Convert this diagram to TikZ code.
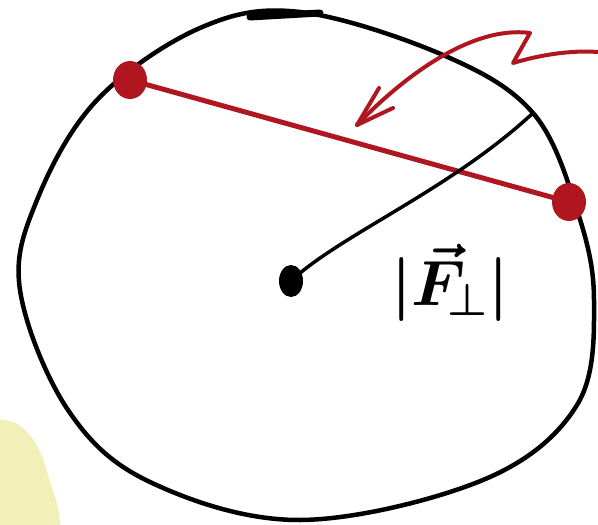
\RequirePackage{fix-cm}
\documentclass[tikz,border=0pt]{standalone}
\usepackage{amsmath}
\usetikzlibrary{shapes.geometric}
\begin{document}
\begin{tikzpicture}[x=1pt,y=-1pt,line cap=round,line join=round,
  ink/.style={black,line width=4.5pt},
  redink/.style={draw=handred,line width=5pt},
  dotred/.style={ellipse,fill=handred,inner sep=0pt,minimum width=34pt,minimum height=38pt},
  dotblack/.style={ellipse,fill=black,inner sep=0pt,minimum width=24pt,minimum height=32pt},
  lbl/.style={inner sep=0pt,font=\fontsize{64}{66}\selectfont}]
\definecolor{handred}{RGB}{176,22,32}
\definecolor{blob}{RGB}{243,239,184}
\useasboundingbox (0,0) rectangle (598,525);
% yellow blob
\fill[blob] (0,420) .. controls (20,418) and (38,440) .. (45,465)
  .. controls (52,490) and (60,505) .. (60,525) -- (0,525) -- cycle;
% circle outline
\draw[ink] plot[smooth cycle,tension=0.6] coordinates {
 (300,12) (443,55) (533,113) (577,210) (594,300) (577,405) (483,480)
 (300,520) (150,482) (68,410) (20,290) (37,200) (97,100) (200,28)};
\draw[black,line width=7pt] (250,17) -- (320,13);
% nodes
\node[dotred] (p1) at (130,80) {};
\node[dotred] (p2) at (569,202) {};
\node[dotblack] (c) at (291,281) {};
\coordinate (r) at (533,113);
\node[lbl] (f) at (450,283) {$\boldsymbol{|\vec{F}_{\!\perp}|}$};
% chord
\draw[redink] (p1.center) -- (p2.center);
% radius
\draw[black,line width=3.5pt] (c.center) .. controls (340,235) and (450,190) .. (r);
% wavy arrow
\coordinate (a0) at (598,52);
\coordinate (a1) at (513,63);
\coordinate (a2) at (530,33);
\coordinate (tip) at (357,125);
\coordinate (b1) at (379,88);
\coordinate (b2) at (393,108);
\draw[handred,line width=4pt] (a0) .. controls (570,50) and (540,55) .. (a1)
  -- (a2)
  .. controls (470,25) and (400,80) .. (tip);
\draw[handred,line width=4pt] (b1) -- (tip) -- (b2);
\end{tikzpicture}
\end{document}
